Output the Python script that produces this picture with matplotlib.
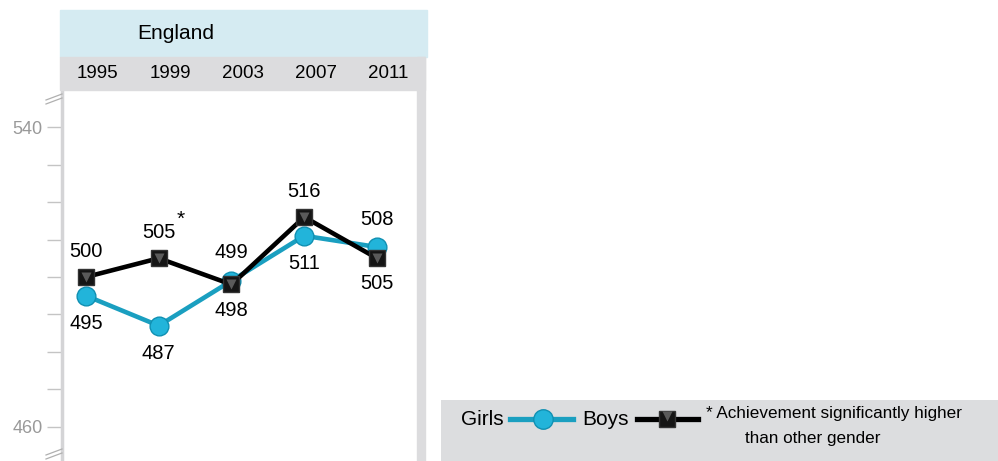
import matplotlib.pyplot as plt
import matplotlib.transforms as mtransforms
from matplotlib.patches import Rectangle

# ---------------- data ----------------
years = ["1995", "1999", "2003", "2007", "2011"]
girls = [495, 487, 499, 511, 508]
boys = [500, 505, 498, 516, 505]
boys_signif = [False, True, False, False, False]
# label above (+1) or below (-1) the marker
girls_pos = [-1, -1, 1, -1, 1]
boys_pos = [1, 1, -1, 1, -1]

W, H = 998, 461
plt.rcParams['font.family'] = ['Liberation Sans', 'DejaVu Sans']
fig = plt.figure(figsize=(W / 100, H / 100), dpi=100)

def fx(px):
    return px / W

def fy(py):
    return 1 - py / H

# header bands and right border
fig.patches.append(Rectangle((fx(60), fy(57)), fx(427) - fx(60), fy(10) - fy(57),
                             transform=fig.transFigure, color="#d5ebf2", zorder=0))
fig.patches.append(Rectangle((fx(60), fy(90)), fx(425) - fx(60), fy(57) - fy(90),
                             transform=fig.transFigure, color="#dcdcde", zorder=0))
fig.patches.append(Rectangle((fx(417), 0), fx(425) - fx(417), fy(57),
                             transform=fig.transFigure, color="#dcdcde", zorder=0))
fig.text(fx(176), fy(33), "England", ha="center", va="center", fontsize=15)

ax = fig.add_axes([fx(62), 0, fx(417) - fx(62), fy(90)])
x = list(range(len(years)))
ax.set_xlim(-0.33, 4.55)
ax.set_ylim(450.9, 549.9)

ax.plot(x, girls, color="#1a9fc0", lw=3.3, zorder=3)
ax.plot(x, girls, ls="none", marker="o", ms=13.5, mfc="#22b4da", mec="#1090b2", mew=1, zorder=4)
ax.plot(x, boys, color="black", lw=3.3, zorder=5)
ax.plot(x, boys, ls="none", marker="s", ms=12, mfc="#151515", mec="#333333", mew=1, zorder=6)
ax.plot(x, boys, ls="none", marker="v", ms=7, mfc="#5a5a5a", mec="none", zorder=7)

for i in x:
    ax.annotate(str(girls[i]), (i, girls[i]), xytext=(0, 20 * girls_pos[i]),
                textcoords="offset points", ha="center", va="center", fontsize=14.5)
    ax.annotate(str(boys[i]), (i, boys[i]), xytext=(0, 18.5 * boys_pos[i]),
                textcoords="offset points", ha="center", va="center", fontsize=14.5)
    if boys_signif[i]:
        ax.annotate("*", (i, boys[i]), xytext=(16, 28), textcoords="offset points",
                    ha="center", va="center", fontsize=15)

# year labels in the grey band
trans = mtransforms.blended_transform_factory(ax.transData, fig.transFigure)
for i, yr in zip(x, years):
    fig.text(i + 0.16, fy(74), yr, transform=trans, ha="center", va="center",
             fontsize=13.5)

# y axis
ax.set_xticks([])
ax.set_yticks(range(460, 541, 10))
ax.set_yticklabels(["460"] + [""] * 7 + ["540"], color="#999999", fontsize=13)
ax.tick_params(axis="y", direction="out", length=11, width=1, color="#c4c4c4", pad=3)
for s in ["top", "right", "bottom"]:
    ax.spines[s].set_visible(False)
ax.spines["left"].set_color("#d4d4d6")
ax.spines["left"].set_linewidth(2.5)

# axis break marks
for yb in (fy(100), fy(455)):
    for d in (0, 4):
        fig.add_artist(plt.Line2D([fx(46), fx(62)], [yb - d / H, yb + (6 - d) / H],
                                  transform=fig.transFigure, color="#b0b0b0", lw=0.9))

# legend box
lg = fig.add_axes([fx(441), 0, 1 - fx(441), fy(400)])
lg.set_xlim(441, 998)
lg.set_ylim(461, 400)
lg.set_facecolor("#dcdddf")
for s in lg.spines.values():
    s.set_visible(False)
lg.set_xticks([])
lg.set_yticks([])
lg.text(461, 419, "Girls", fontsize=15, va="center")
lg.plot([510, 573], [419, 419], color="#1a9fc0", lw=3.8)
lg.plot([543], [419], marker="o", ms=14, mfc="#22b4da", mec="#1090b2", ls="none")
lg.text(582, 419, "Boys", fontsize=15, va="center")
lg.plot([637, 698], [419, 419], color="black", lw=3.8)
lg.plot([667], [419], marker="s", ms=12, mfc="#151515", mec="#333333", ls="none")
lg.plot([667], [416], marker="v", ms=7, mfc="#5a5a5a", mec="none", ls="none")
lg.text(706, 413, "* Achievement significantly higher", fontsize=12.3, va="center")
lg.text(745, 438, "than other gender", fontsize=12.3, va="center")

fig.savefig("out.png", dpi=100)
